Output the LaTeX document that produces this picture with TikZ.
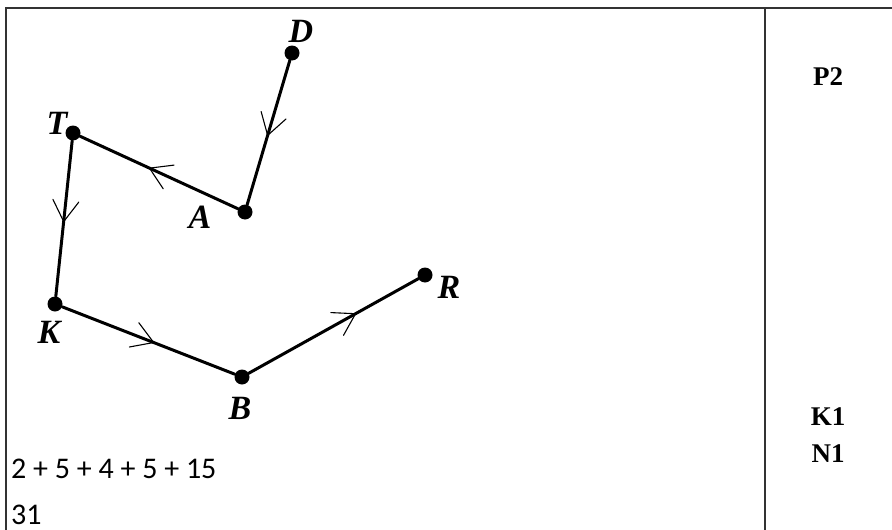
\documentclass[tikz,border=0pt]{standalone}
\usepackage{fontspec}
\usepackage{tikz}
\usetikzlibrary{decorations.markings}
\newfontfamily\ptfont{Liberation Serif}
\newfontfamily\markfont{Liberation Serif}
\newfontfamily\sumfont{Carlito}
\tikzset{
  cellrule/.style={line width=1.8pt, black!80},
  pathline/.style={line width=3pt, line cap=round},
  ptdot/.style={circle, fill=black, inner sep=0pt, minimum size=15pt},
  ptname/.style={font=\ptfont\bfseries\itshape\fontsize{34}{34}\selectfont},
  marktext/.style={font=\markfont\bfseries\fontsize{27}{27}\selectfont},
  sumtext/.style={font=\sumfont\fontsize{30}{30}\selectfont, anchor=base west, inner sep=1pt},
  tickarrow/.style={postaction={decorate}, decoration={markings,
    mark=at position #1 with {\draw[line width=1.1pt, line cap=round, line join=miter] (-21pt,13pt) -- (0,0) -- (-21pt,-13pt);}}},
}
\begin{document}
\begin{tikzpicture}[x=1pt,y=-1pt]
\useasboundingbox (0,0) rectangle (892,530);
% table frame
\draw[cellrule] (892,8) -- (6,8) -- (6,530);
\draw[cellrule] (765,8) -- (765,530);
% points
\node[ptdot] (D) at (292,53) {};
\node[ptdot] (A) at (245,212) {};
\node[ptdot] (T) at (73,133) {};
\node[ptdot] (K) at (55,304) {};
\node[ptdot] (B) at (242,377) {};
\node[ptdot] (R) at (425,275) {};
\node[ptname] (Dl) at (301,31) {D};
\node[ptname] (Al) at (200,217) {A};
\node[ptname] (Tl) at (57,123) {T};
\node[ptname] (Kl) at (49,332) {K};
\node[ptname] (Bl) at (240,408) {B};
\node[ptname] (Rl) at (449,287) {R};
% route
\draw[pathline, tickarrow=0.52] (D) -- (A);
\draw[pathline, tickarrow=0.56] (A) -- (T);
\draw[pathline, tickarrow=0.52] (T) -- (K);
\draw[pathline, tickarrow=0.53] (K) -- (B);
\draw[pathline, tickarrow=0.63] (B) -- (R);
% working and marks
\node[sumtext] (sum) at (10,478) {2 + 5 + 4 + 5 + 15};
\node[sumtext] (total) at (10,524) {31};
\node[marktext] (P2) at (828,77) {P2};
\node[marktext] (K1) at (828,417) {K1};
\node[marktext] (N1) at (828,454) {N1};
\end{tikzpicture}
\end{document}
